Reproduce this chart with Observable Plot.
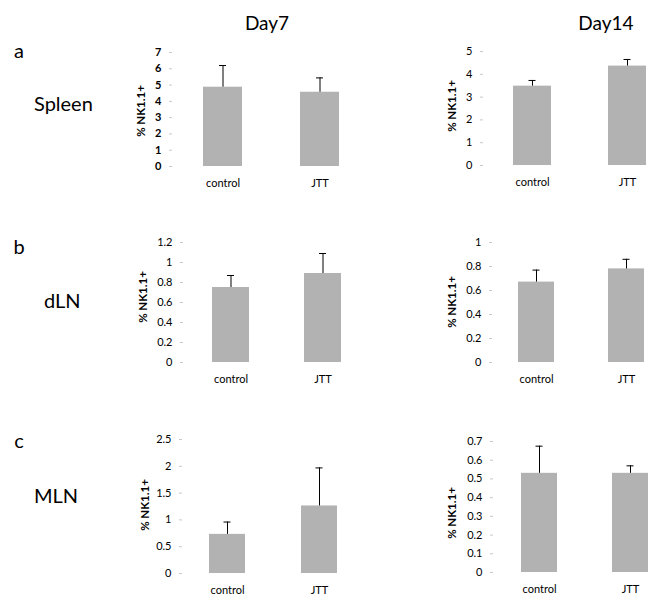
<!DOCTYPE html>
<html>
<head>
<meta charset="utf-8">
<script src="https://cdn.jsdelivr.net/npm/d3@7"></script>
<script src="https://cdn.jsdelivr.net/npm/@observablehq/plot@0.6"></script>
<style>
  html, body { margin: 0; padding: 0; background: #fff; }
  #root { position: relative; width: 666px; height: 597px; overflow: hidden; background: #fff; font-family: Lato, "Open Sans", sans-serif; }
  .abs { position: absolute; white-space: nowrap; color: #000; line-height: 1; transform: translate(-50%, -50%); }
  .absl { position: absolute; white-space: nowrap; color: #000; line-height: 1; transform: translate(0, -50%); }
  .ylab { position: absolute; white-space: nowrap; font-weight: bold; font-size: 11.5px; line-height: 1; transform: translate(-50%, -50%) rotate(-90deg); }
  .plot { position: absolute; }
</style>
</head>
<body>
<div id="root"></div>
<script>
// ---- data ----
const groups = ["control", "JTT"];
const dayLabels = ["Day7", "Day14"];
const rowLetters = ["a", "b", "c"];
const tissues = ["Spleen", "dLN", "MLN"];
const yLabel = "% NK1.1+";

// means and (upper) error bar lengths, [control, JTT]
const spleenDay7 = [4.87, 4.56];
const spleenDay7Err = [1.33, 0.88];
const spleenDay14 = [3.48, 4.36];
const spleenDay14Err = [0.25, 0.29];
const dlnDay7 = [0.75, 0.89];
const dlnDay7Err = [0.12, 0.20];
const dlnDay14 = [0.67, 0.78];
const dlnDay14Err = [0.10, 0.08];
const mlnDay7 = [0.73, 1.26];
const mlnDay7Err = [0.23, 0.71];
const mlnDay14 = [0.53, 0.53];
const mlnDay14Err = [0.145, 0.04];

// tick values
const ticksSpleen7 = [0, 1, 2, 3, 4, 5, 6, 7];
const ticksSpleen14 = [0, 1, 2, 3, 4, 5];
const ticksDln7 = [0, 0.2, 0.4, 0.6, 0.8, 1, 1.2];
const ticksDln14 = [0, 0.2, 0.4, 0.6, 0.8, 1];
const ticksMln7 = [0, 0.5, 1, 1.5, 2, 2.5];
const ticksMln14 = [0, 0.1, 0.2, 0.3, 0.4, 0.5, 0.6, 0.7];

// ---- layout (pixel geometry of each panel) ----
const panels = [
  {vals: spleenDay7, errs: spleenDay7Err, ticks: ticksSpleen7, axisX: 172, yTop: 52, y0: 166, c1: 222, c2: 320, bw: 39, lab: [141, 111], bold: true},
  {vals: spleenDay14, errs: spleenDay14Err, ticks: ticksSpleen14, axisX: 483, yTop: 51, y0: 165, c1: 532, c2: 627, bw: 38, lab: [452, 106]},
  {vals: dlnDay7, errs: dlnDay7Err, ticks: ticksDln7, axisX: 183, yTop: 242, y0: 362, c1: 230, c2: 322, bw: 37, lab: [143, 297]},
  {vals: dlnDay14, errs: dlnDay14Err, ticks: ticksDln14, axisX: 492, yTop: 242, y0: 362, c1: 536, c2: 626, bw: 36, lab: [452, 302]},
  {vals: mlnDay7, errs: mlnDay7Err, ticks: ticksMln7, axisX: 182, yTop: 439, y0: 573, c1: 227, c2: 319, bw: 36, lab: [145, 505]},
  {vals: mlnDay14, errs: mlnDay14Err, ticks: ticksMln14, axisX: 493, yTop: 441, y0: 572, c1: 539, c2: 630, bw: 36, lab: [452, 513]}
];

const root = document.getElementById("root");
function addText(txt, x, y, size, cls) {
  const d = document.createElement("div");
  d.className = cls || "abs";
  d.textContent = txt;
  d.style.left = x + "px";
  d.style.top = y + "px";
  if (size) d.style.fontSize = size + "px";
  root.appendChild(d);
  return d;
}

// column headers (centre positions)
const headXY = [[267, 22], [606, 22]];
dayLabels.forEach((t, i) => addText(t, headXY[i][0], headXY[i][1], 19));
// row letters + tissue names
const letterXY = [[19, 50], [19, 246], [19, 440]];
const tissueXY = [[34, 103], [44, 300], [34, 495]];
rowLetters.forEach((t, i) => addText(t, letterXY[i][0], letterXY[i][1], 20));
tissues.forEach((t, i) => addText(t, tissueXY[i][0], tissueXY[i][1], 20, "absl"));

const fmt = d => String(+d.toFixed(2));
const mL = 45, mT = 15, mB = 40, W = 230;

panels.forEach(p => {
  const data = groups.map((g, i) => ({group: g, value: p.vals[i], top: p.vals[i] + p.errs[i]}));
  const left = p.axisX - mL;
  const top = p.yTop - mT;
  const H = (p.y0 - p.yTop) + mT + mB;
  const r0 = p.c1 - p.bw / 2 - left;
  const r1 = p.c2 + p.bw / 2 - left;
  const pi = 1 - p.bw / (p.c2 - p.c1);
  const ymax = p.ticks[p.ticks.length - 1];
  const cap = p.bw / 2 - 3.5;
  const chart = Plot.plot({
    width: W, height: H,
    marginLeft: mL, marginTop: mT, marginBottom: mB, marginRight: 0,
    style: {fontFamily: "Lato, 'Open Sans', sans-serif", fontSize: "11px", background: "transparent", overflow: "visible"},
    x: {type: "band", domain: groups, range: [r0, r1], paddingInner: pi, paddingOuter: 0, align: 0, label: null},
    y: {domain: [0, ymax], label: null},
    marks: [
      Plot.axisY({ticks: p.ticks, tickFormat: fmt, tickSize: 3, tickPadding: 8, stroke: "#c8c8c8", fill: "#000", label: null, fontWeight: p.bold ? "bold" : "normal"}),
      Plot.axisX({tickSize: 0, tickPadding: 13, label: null, fill: "#000"}),
      Plot.barY(data, {x: "group", y: "value", fill: "#b2b2b2"}),
      Plot.ruleX(data, {x: "group", y1: "value", y2: "top", stroke: "#000", strokeWidth: 1}),
      Plot.tickY(data, {x: "group", y: "top", stroke: "#000", strokeWidth: 1, insetLeft: cap, insetRight: cap})
    ]
  });
  chart.classList.add("plot");
  chart.style.left = left + "px";
  chart.style.top = top + "px";
  root.appendChild(chart);
  addText(yLabel, p.lab[0], p.lab[1], null, "ylab");
});
</script>
</body>
</html>
